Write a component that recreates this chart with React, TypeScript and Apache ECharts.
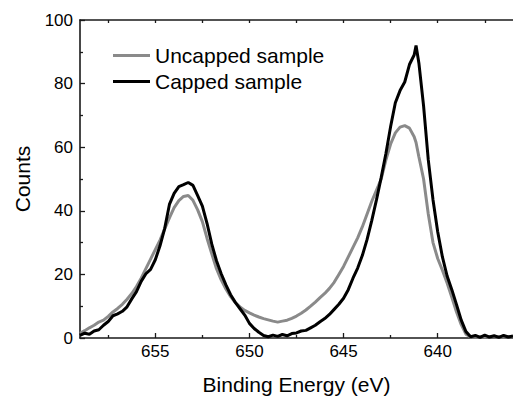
import React, { useEffect, useRef } from "react";
import * as echarts from "echarts";

const energies = [
  659, 658.75, 658.5, 658.25, 658, 657.75, 657.5, 657.25, 657, 656.75, 656.5, 656.25,
  656, 655.75, 655.5, 655.25, 655, 654.75, 654.5, 654.25, 654, 653.75, 653.5, 653.25,
  653, 652.75, 652.5, 652.25, 652, 651.75, 651.5, 651.25, 651, 650.75, 650.5, 650.25,
  650, 649.75, 649.5, 649.25, 649, 648.75, 648.5, 648.25, 648, 647.75, 647.5, 647.25,
  647, 646.75, 646.5, 646.25, 646, 645.75, 645.5, 645.25, 645, 644.75, 644.5, 644.25,
  644, 643.75, 643.5, 643.25, 643, 642.75, 642.5, 642.25, 642, 641.75, 641.5, 641.25,
  641.15, 641, 640.75, 640.5, 640.25, 640, 639.75, 639.5, 639.25, 639, 638.75, 638.5,
  638.25, 638, 637.75, 637.5, 637.25, 637, 636.75, 636.5, 636.25, 636,
];

const uncapped = [
  1.5, 2.3, 3.2, 4.0, 5.0, 5.6, 6.8, 8.2, 9.3, 10.6, 12.2, 14.0,
  16.2, 18.8, 21.8, 24.8, 27.8, 30.8, 34.3, 37.8, 41.0, 43.2, 44.5, 44.8,
  43.3, 40.3, 36.6, 31.3, 26.5, 21.8, 18.3, 15.4, 13.0, 11.1, 9.8, 8.7,
  7.9, 7.2, 6.6, 6.1, 5.7, 5.3, 5.0, 5.3, 5.6, 6.2, 6.9, 7.8,
  8.8, 10.0, 11.3, 12.7, 14.0, 15.6, 17.5, 20.0, 22.5, 25.5, 28.5, 31.5,
  35.0, 39.0, 43.0, 46.5, 50.0, 56.0, 61.0, 64.5, 66.3, 66.8, 66.0, 63.3,
  61.5, 57.0, 50.0, 39.0, 30.0, 25.0, 21.3, 17.3, 12.8, 8.2, 4.2, 1.2,
  0.3, 0.2, 0.4, 0.2, 0.5, 0.3, 0.4, 0.2, 0.5, 0.3,
];

const capped = [
  0.8, 1.5, 1.2, 2.2, 2.6, 4.0, 5.2, 7.0, 7.6, 8.4, 9.8, 12.3,
  14.6, 17.8, 20.2, 21.6, 24.6, 29.0, 34.5, 42.0, 45.5, 47.6, 48.2, 48.9,
  48.0, 44.8, 41.5, 36.0, 29.5, 24.3, 20.2, 16.7, 13.6, 11.2, 9.2, 7.2,
  4.6, 3.0, 1.8, 0.8, 0.4, 0.9, 0.5, 1.1, 0.7, 1.4, 1.6, 2.2,
  2.4, 3.2, 4.0, 5.1, 6.1, 7.4, 9.0, 10.6, 12.5, 15.2, 18.8, 22.0,
  26.0, 31.0, 37.0, 43.5, 50.5, 58.0, 66.5, 74.0, 77.8, 80.5, 86.0, 89.0,
  92.0, 86.5, 73.0, 56.0, 43.5, 33.4, 25.5, 19.5, 15.2, 10.5, 5.6, 2.0,
  0.4, 0.8, 0.2, 0.9, 0.3, 0.7, 0.2, 0.8, 0.3, 0.6,
];

const majorXTicks = [655, 650, 645, 640];
const minorXTicks = [657.5, 652.5, 647.5, 642.5, 637.5];
const topXTicks = [657.5, 655, 652.5, 650, 647.5, 645, 642.5, 640, 637.5];

const seriesNames = ["Uncapped sample", "Capped sample"];
const FONT = "'Liberation Sans', Arial, Helvetica, sans-serif";

export default function App() {
  const ref = useRef<HTMLDivElement>(null);
  useEffect(() => {
    if (!ref.current) return;
    const chart = echarts.init(ref.current, undefined, { renderer: "svg" });
    const axisLine = { show: true, lineStyle: { color: "#1a1a1a", width: 1.6 } };
    const tickStyle = { color: "#1a1a1a", width: 1.3 };
    const xBase = {
      type: "value" as const,
      min: 636,
      max: 659,
      inverse: true,
      splitLine: { show: false },
    };
    chart.setOption({
      animation: false,
      backgroundColor: "#fff",
      textStyle: { fontFamily: FONT },
      grid: { left: 80, top: 20, width: 435.5, height: 320, containLabel: false },
      legend: {
        orient: "vertical",
        left: 113,
        top: 45,
        itemWidth: 37,
        itemHeight: 3,
        itemGap: 5,
        icon: "rect",
        data: seriesNames,
        textStyle: { fontSize: 21, color: "#000", fontFamily: FONT, padding: [0, 0, 0, 0], lineHeight: 21 },
        padding: 0,
      },
      xAxis: [
        {
          ...xBase,
          position: "bottom",
          axisLine,
          axisTick: { show: true, inside: true, length: 5, customValues: majorXTicks, lineStyle: tickStyle },
          axisLabel: { show: true, customValues: majorXTicks, fontSize: 17, color: "#000", margin: 5, fontFamily: FONT },
          name: "Binding Energy (eV)",
          nameLocation: "middle",
          nameGap: 36,
          nameTextStyle: { fontSize: 21, color: "#000", fontFamily: FONT },
        },
        {
          ...xBase,
          position: "bottom",
          axisLine: { show: false },
          axisTick: { show: true, inside: true, length: 3, customValues: minorXTicks, lineStyle: tickStyle },
          axisLabel: { show: false },
        },
        {
          ...xBase,
          position: "top",
          axisLine,
          axisTick: { show: true, inside: true, length: 3, customValues: topXTicks, lineStyle: tickStyle },
          axisLabel: { show: false },
        },
      ],
      yAxis: {
        type: "value",
        min: 0,
        max: 100,
        interval: 20,
        axisLine,
        axisTick: { show: true, inside: true, length: 5, lineStyle: tickStyle },
        minorTick: { show: true, splitNumber: 2, length: 3, lineStyle: tickStyle },
        axisLabel: { fontSize: 17, color: "#000", margin: 7, fontFamily: FONT },
        splitLine: { show: false },
        name: "Counts",
        nameLocation: "middle",
        nameGap: 47,
        nameTextStyle: { fontSize: 21, color: "#000", fontFamily: FONT },
      },
      series: [
        {
          name: seriesNames[0],
          type: "line",
          xAxisIndex: 0,
          showSymbol: false,
          symbol: "none",
          color: "#8a8a8a",
          lineStyle: { color: "#8a8a8a", width: 3 },
          data: energies.map((e, i) => [e, uncapped[i]]),
        },
        {
          name: seriesNames[1],
          type: "line",
          xAxisIndex: 0,
          showSymbol: false,
          symbol: "none",
          color: "#000",
          lineStyle: { color: "#000", width: 3 },
          data: energies.map((e, i) => [e, capped[i]]),
        },
      ],
    });
    return () => chart.dispose();
  }, []);
  return (
    <div
      ref={ref}
      style={{ position: "absolute", left: 0, top: 0, width: 513, height: 400, background: "#fff" }}
    />
  );
}
